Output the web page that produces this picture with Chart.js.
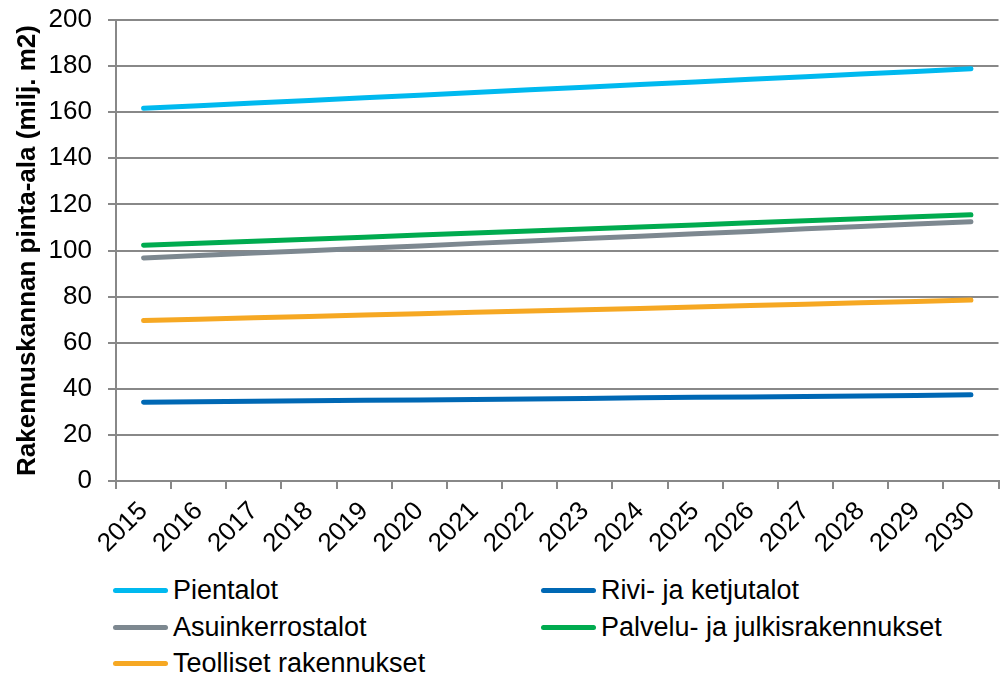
<!DOCTYPE html>
<html>
<head>
<meta charset="utf-8">
<script src="https://cdn.jsdelivr.net/npm/chart.js@4/dist/chart.umd.min.js"></script>
<style>
  body { margin: 0; background: #fff; font-family: "Liberation Sans", Arial, sans-serif; }
  #wrap { position: relative; width: 1000px; height: 566px; }
  #legend { position: relative; width: 1000px; height: 111px; }
  .item { position: absolute; display: flex; align-items: center; font-size: 27px; line-height: 32px; color: #000; }
  .item span.sw { display: inline-block; width: 55px; height: 5px; border-radius: 3px; margin-right: 5px; }
</style>
</head>
<body>
<div id="wrap"><canvas id="chart"></canvas></div>
<div id="legend"></div>
<script>
// Years on the x axis
const years = ["2015", "2016", "2017", "2018", "2019", "2020", "2021", "2022",
  "2023", "2024", "2025", "2026", "2027", "2028", "2029", "2030"];

// Building stock floor area, million m2
const pientalot = [161.7, 162.8, 164.0, 165.1, 166.3, 167.4, 168.5, 169.7,
  170.8, 172.0, 173.1, 174.3, 175.4, 176.6, 177.7, 178.9];
const rivitalot = [34.2, 34.4, 34.6, 34.8, 35.0, 35.2, 35.4, 35.6,
  35.8, 36.1, 36.3, 36.5, 36.7, 36.9, 37.1, 37.4];
const kerrostalot = [96.8, 97.8, 98.9, 99.9, 101.0, 102.0, 103.1, 104.1,
  105.2, 106.2, 107.3, 108.3, 109.4, 110.4, 111.5, 112.5];
const palvelu = [102.3, 103.2, 104.0, 104.9, 105.8, 106.7, 107.6, 108.5,
  109.3, 110.2, 111.1, 112.0, 112.9, 113.8, 114.6, 115.5];
const teolliset = [69.6, 70.2, 70.8, 71.4, 72.0, 72.6, 73.2, 73.8,
  74.3, 74.9, 75.5, 76.1, 76.7, 77.3, 77.9, 78.5];

const seriesNames = ["Pientalot", "Rivi- ja ketjutalot", "Asuinkerrostalot",
  "Palvelu- ja julkisrakennukset", "Teolliset rakennukset"];
const seriesColors = ["#00b9ef", "#0068b4", "#7d8890", "#00ab4f", "#f6a823"];
const seriesData = [pientalot, rivitalot, kerrostalot, palvelu, teolliset];

const datasets = seriesData.map((d, i) => ({
  label: seriesNames[i],
  data: d,
  borderColor: seriesColors[i],
  backgroundColor: seriesColors[i],
  borderWidth: 5,
  borderCapStyle: "round",
  pointRadius: 0,
  tension: 0,
}));

const ctx = document.querySelector("#chart").getContext("2d");
new Chart(ctx, {
  type: "line",
  data: { labels: years, datasets: datasets },
  options: {
    responsive: true,
    maintainAspectRatio: false,
    animation: false,
    layout: { padding: { top: 0, right: 0, left: 5, bottom: 0 } },
    plugins: { legend: { display: false }, tooltip: { enabled: false } },
    scales: {
      x: {
        offset: true,
        grid: { offset: true, drawOnChartArea: false, color: "#888", lineWidth: 2, tickLength: 8 },
        border: { color: "#888", width: 2 },
        ticks: {
          color: "#000",
          font: { family: "Liberation Sans", size: 26 },
          minRotation: 45,
          maxRotation: 45,
          autoSkip: false,
          padding: 7,
        },
      },
      y: {
        min: 0,
        max: 200,
        // keep the plot area where the original has it
        afterFit: function (scale) {
          scale.width = 111;
          scale.paddingTop = 20;
        },
        ticks: {
          stepSize: 20,
          color: "#000",
          font: { family: "Liberation Sans", size: 26 },
          padding: 16,
        },
        grid: { color: "#888", lineWidth: 2, tickLength: 8 },
        border: { color: "#888", width: 2 },
        title: {
          display: true,
          text: "Rakennuskannan pinta-ala (milj. m2)",
          color: "#000",
          font: { family: "Liberation Sans", size: 26, weight: "bold" },
          padding: { top: 7, bottom: 6 },
        },
      },
    },
  },
});

// Legend in two columns below the chart
const legendPos = [[113, 8], [541, 8], [113, 45], [541, 45], [113, 81]];
const legend = document.querySelector("#legend");
seriesNames.forEach((name, i) => {
  const el = document.createElement("div");
  el.className = "item";
  el.style.left = legendPos[i][0] + "px";
  el.style.top = legendPos[i][1] + "px";
  el.innerHTML = '<span class="sw" style="background:' + seriesColors[i] + '"></span>' + name;
  legend.appendChild(el);
});
</script>
</body>
</html>
